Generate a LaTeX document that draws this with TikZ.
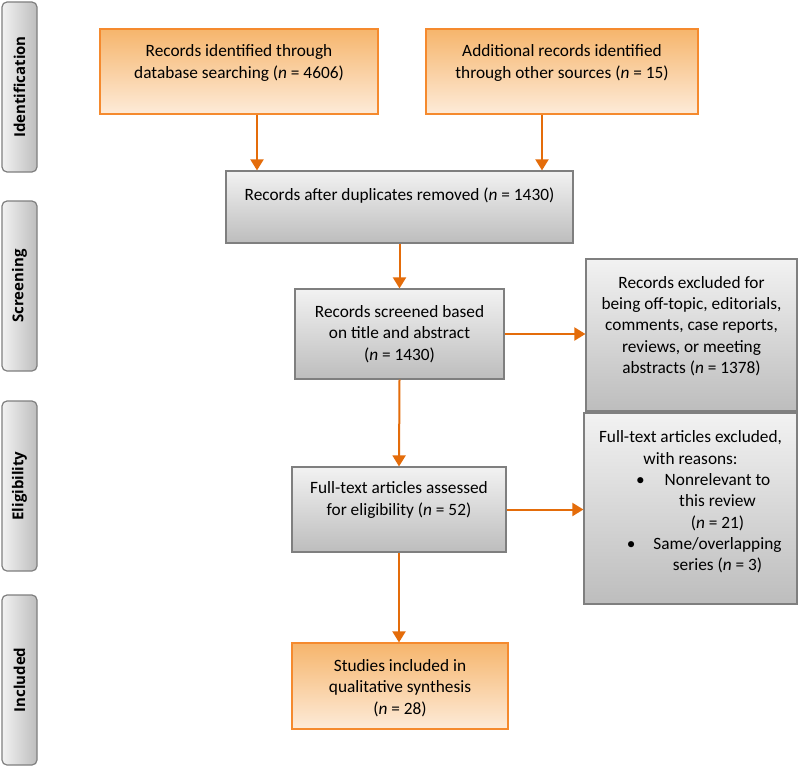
\documentclass[tikz,border=0pt]{standalone}
\usepackage{fontspec}
\setmainfont{Carlito}
\newfontfamily\sidefont{Open Sans}
\usetikzlibrary{arrows.meta}
\definecolor{arrorange}{HTML}{E46C0A}
\definecolor{boxorange}{HTML}{F58A2E}
\definecolor{orangetop}{HTML}{F6B56C}
\definecolor{orangebot}{HTML}{FDEBD9}
\definecolor{graytop}{HTML}{F2F2F2}
\definecolor{graybot}{HTML}{BDBDBD}
\definecolor{grayline}{HTML}{7F7F7F}
\newcommand\nn{\textit{n}}

\begin{document}
\begin{tikzpicture}[x=1pt, y=-1pt,
                every node/.style={inner sep=0pt},
                phase/.style={draw=grayline, line width=1.2pt, rounded corners=5pt,
                  left color=graytop, right color=graybot,
                  minimum width=35pt, minimum height=170pt,
                  font=\sidefont\bfseries\fontsize{15}{15}\selectfont},
                obox/.style={draw=boxorange, line width=1.2pt, top color=orangetop, bottom color=orangebot},
                gbox/.style={draw=grayline, line width=1.2pt, top color=graytop, bottom color=graybot},
                txt/.style={align=center, font=\fontsize{17.3}{21.3}\selectfont},
                arr/.style={draw=arrorange, line width=2pt, -{Triangle[length=11pt,width=13pt]}},
              ]
              \fill[white] (0,0) rectangle (800,768);
              \useasboundingbox (0,0) rectangle (800,768);
              % phases
              \node[phase] (ident) at (19.5,87) {\rotatebox{90}{Identification}};
              \node[phase] (screening) at (19.5,286) {\rotatebox{90}{Screening}};
              \node[phase] (eligib) at (19.5,486) {\rotatebox{90}{Eligibility}};
              \node[phase] (included) at (19.5,680) {\rotatebox{90}{Included}};
              % boxes
              \node[obox, minimum width=278pt, minimum height=85pt] (dbs) at (239,71.5) {};
              \node[obox, minimum width=272pt, minimum height=85pt] (other) at (562,71.5) {};
              \node[gbox, minimum width=347pt, minimum height=72pt] (dup) at (399.5,207) {};
              \node[gbox, minimum width=209pt, minimum height=90pt] (screen) at (399.5,334) {};
              \node[gbox, minimum width=211pt, minimum height=152pt] (excl) at (691.5,335) {};
              \node[gbox, minimum width=214pt, minimum height=85pt] (full) at (399,509.5) {};
              \node[gbox, minimum width=213pt, minimum height=191pt] (fexcl) at (690.5,508.5) {};
              \node[obox, minimum width=216pt, minimum height=86pt] (incl) at (400,686) {};
              % texts
              \node[txt] (dbs-txt) at (239,63) {Records identified through\\database searching (\nn{} = 4606)};
              \node[txt] (other-txt) at (562,63) {Additional records identified\\through other sources (\nn{} = 15)};
              \node[txt] (dup-txt) at (399.5,196) {Records after duplicates removed (\nn{} = 1430)};
              \node[txt] (screen-txt) at (399.5,334) {Records screened based\\on title and abstract\\(\nn{} = 1430)};
              \node[txt] (excl-txt) at (691.5,326) {Records excluded for\\being off-topic, editorials,\\comments, case reports,\\reviews, or meeting\\abstracts (\nn{} = 1378)};
              \node[txt] (full-txt) at (399,500) {Full-text articles assessed\\for eligibility (\nn{} = 52)};
              \node[txt] (fexcl-txt) at (690.5,502) {Full-text articles excluded,\\with reasons:\\
                \hspace*{54pt}\llap{\textbullet\hspace{20pt}}Nonrelevant to\\
                \hspace*{54pt}this review\\
                \hspace*{54pt}(\nn{} = 21)\\
                \hspace*{54pt}\llap{\textbullet\hspace{18pt}}Same/overlapping\\
                \hspace*{54pt}series (\nn{} = 3)};
              \node[txt] (incl-txt) at (400,688) {Studies included in\\qualitative synthesis\\(\nn{} = 28)};
              % arrows
              \draw[arr] ([xshift=18pt]dbs.south) -- ([xshift=18pt]dbs.south |- dup.north);
              \draw[arr] ([xshift=-20pt]other.south) -- ([xshift=-20pt]other.south |- dup.north);
              \draw[arr] (dup.south) -- (screen.north);
              \draw[arr] (screen.east) -- (screen.east -| excl.west);
              \draw[arr] (screen.south) -- (full.north);
              \draw[arr] (full.east) -- (full.east -| fexcl.west);
              \draw[arr] (full.south) -- (full.south |- incl.north);
            \end{tikzpicture}
\end{document}
